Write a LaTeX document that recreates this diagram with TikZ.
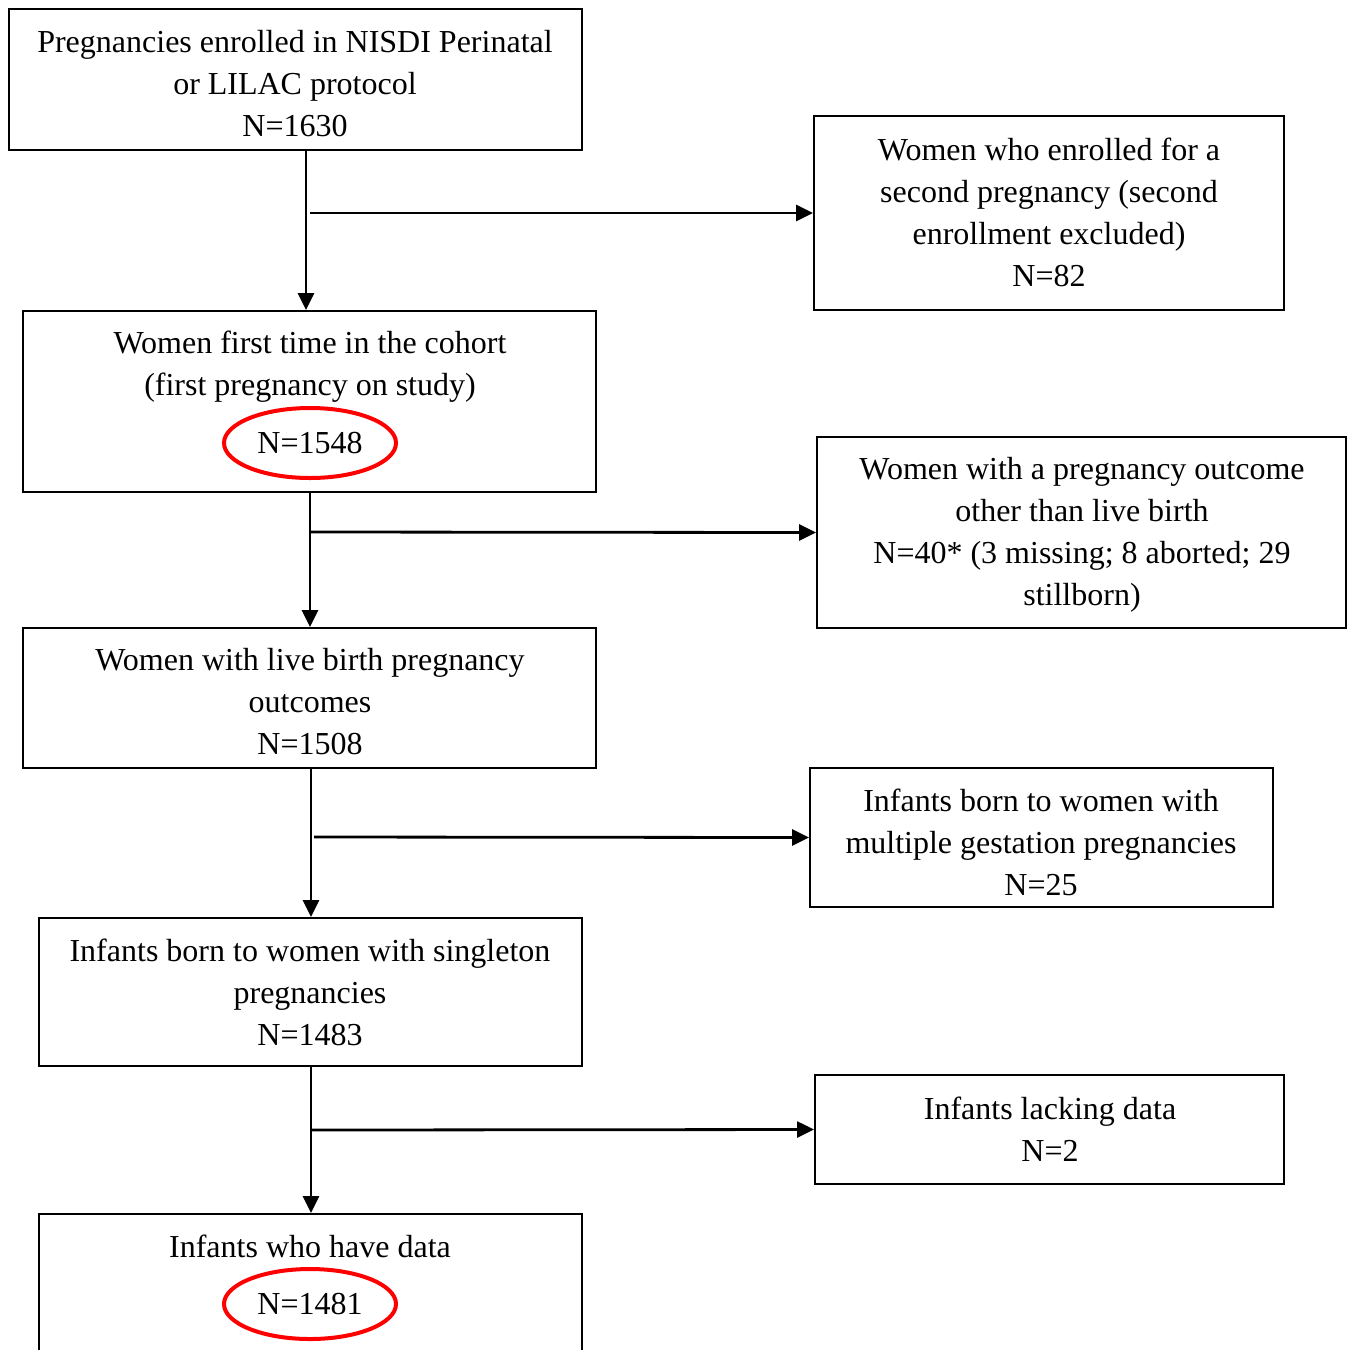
\documentclass[tikz,border=0pt]{standalone}
\usepackage{fontspec}
\setmainfont{Liberation Serif}
\usetikzlibrary{arrows.meta,shapes.geometric}
\begin{document}
\begin{tikzpicture}[x=0.5pt,y=-0.5pt,
  box/.style={draw, line width=1pt, inner sep=0pt},
  txt/.style={align=center, font=\fontsize{16}{21}\selectfont, inner sep=0pt},
  hl/.style={draw=red, line width=2pt, ellipse, minimum width=86pt, minimum height=35pt, inner sep=0pt, font=\fontsize{16}{21}\selectfont},
  arr/.style={-{Triangle[length=8.5pt,width=8pt]}, line width=1.4pt}]
\clip (0,0) rectangle (1352,1349);
\fill[white] (0,0) rectangle (1352,1349);
% boxes
\node[box, minimum width=286.5pt, minimum height=70.5pt] (b1) at (295.5,79.5) {};
\node[box, minimum width=235pt, minimum height=97pt] (r1) at (1049,213) {};
\node[box, minimum width=286.5pt, minimum height=90.5pt] (b2) at (309.5,401.5) {};
\node[box, minimum width=264.5pt, minimum height=95.5pt] (r2) at (1081.5,532.5) {};
\node[box, minimum width=286.5pt, minimum height=70pt] (b3) at (309.5,698) {};
\node[box, minimum width=231.5pt, minimum height=69.5pt] (r3) at (1041.5,837.5) {};
\node[box, minimum width=271.5pt, minimum height=74pt] (b4) at (310.5,992) {};
\node[box, minimum width=234.5pt, minimum height=54.5pt] (r4) at (1049.5,1129.5) {};
\node[box, minimum width=271.5pt, minimum height=93pt] (b5) at (310.5,1307) {};
% texts
\node[txt] (t1) at (295,84) {Pregnancies enrolled in NISDI Perinatal\\or LILAC protocol\\N=1630};
\node[txt] (tr1) at (1049,212) {Women who enrolled for a\\second pregnancy (second\\enrollment excluded)\\N=82};
\node[txt] (t2) at (310,367) {Women first time in the cohort\\(first pregnancy on study)};
\node[hl] (n2) at (310,443) {N=1548};
\node[txt] (tr2) at (1082,535) {Women with a pregnancy outcome\\other than live birth\\N=40* (3 missing; 8 aborted; 29\\stillborn)};
\node[txt] (t3) at (310,702) {Women with live birth pregnancy\\outcomes\\N=1508};
\node[txt] (tr3) at (1041,842) {Infants born to women with\\multiple gestation pregnancies\\N=25};
\node[txt] (t4) at (310,992) {Infants born to women with singleton\\pregnancies\\N=1483};
\node[txt] (tr4) at (1050,1129) {Infants lacking data\\N=2};
\node[txt] (t5) at (310,1246) {Infants who have data};
\node[hl] (n5) at (310,1304) {N=1481};
% connectors
\coordinate (v1) at (306,0);
\coordinate (v2) at (310,0);
\coordinate (v3) at (311,0);
\coordinate (h1) at (310,213);
\coordinate (h2) at (310,532);
\coordinate (h3) at (314,837);
\coordinate (h4) at (311,1130);
\draw[arr] (b1.south -| v1) -- (b2.north -| v1);
\draw[arr] (h1) -- (r1.west);
\draw[arr] (b2.south -| v2) -- (b3.north -| v2);
\draw[arr] (h2) -- (r2.west);
\draw[arr] (b3.south -| v3) -- (b4.north -| v3);
\draw[arr] (h3) -- (r3.west);
\draw[arr] (b4.south -| v3) -- (b5.north -| v3);
\draw[arr] (h4) -- (r4.west);
\end{tikzpicture}
\end{document}
